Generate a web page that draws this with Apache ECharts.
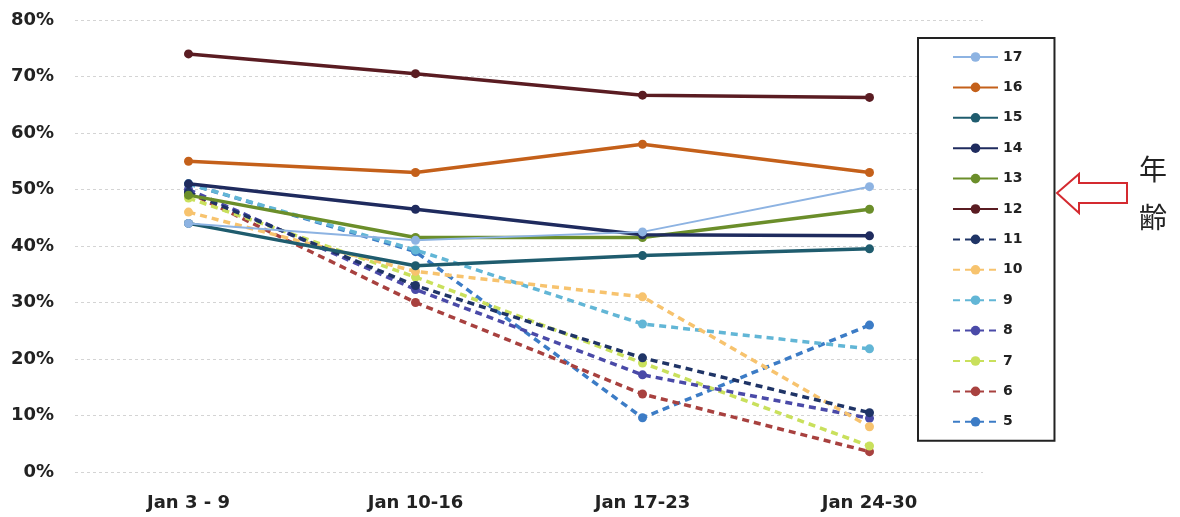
<!DOCTYPE html>
<html><head><meta charset="utf-8">
<script src="https://cdn.jsdelivr.net/npm/echarts@6/dist/echarts.min.js"></script>
<style>html,body{margin:0;padding:0;background:#fff}#c{width:1180px;height:517px}</style>
</head><body><div id="c"></div>
<script>
const categories = ['Jan 3 - 9', 'Jan 10-16', 'Jan 17-23', 'Jan 24-30'];
const yTicks = [0, 10, 20, 30, 40, 50, 60, 70, 80];
const seriesNames = ['17', '16', '15', '14', '13', '12', '11', '10', '9', '8', '7', '6', '5'];
const s17 = [44.0, 41.0, 42.5, 50.5];
const s16 = [55.0, 53.0, 58.0, 53.0];
const s15 = [44.0, 36.5, 38.3, 39.5];
const s14 = [51.0, 46.5, 42.0, 41.8];
const s13 = [49.0, 41.5, 41.5, 46.5];
const s12 = [74.0, 70.5, 66.7, 66.3];
const s11 = [49.5, 33.0, 20.2, 10.5];
const s10 = [46.0, 35.5, 31.0, 8.0];
const s9  = [51.0, 39.3, 26.2, 21.8];
const s8  = [50.0, 32.3, 17.2, 9.5];
const s7  = [48.5, 34.5, 19.3, 4.6];
const s6  = [49.5, 30.0, 13.8, 3.6];
const s5  = [51.0, 39.0, 9.6, 26.0];
const seriesData = [s17, s16, s15, s14, s13, s12, s11, s10, s9, s8, s7, s6, s5];
const colors = ['#8db3e2', '#c4601a', '#1f5c6e', '#1f2b5e', '#6b8e2a', '#5a1c22',
                '#1f3466', '#f7c36e', '#62b6d6', '#4a4aa8', '#c9e05c', '#a8413f', '#3c7cc6'];
const dashed = [false, false, false, false, false, false, true, true, true, true, true, true, true];

const chart = echarts.init(document.getElementById('c'));
const series = seriesNames.map((n, i) => ({
  name: n, type: 'line', data: seriesData[i],
  symbol: 'circle', symbolSize: 9,
  itemStyle: { color: colors[i] },
  lineStyle: { color: colors[i], width: i === 0 ? 2 : 3.5, type: dashed[i] ? [7, 5] : 'solid' },
  z: 20 - i
}));
chart.setOption({
  animation: false,
  backgroundColor: '#fff',
  grid: { left: 75, right: 197, top: 20, bottom: 45 },
  xAxis: {
    type: 'category', data: categories, boundaryGap: true,
    axisLine: { show: false }, axisTick: { show: false },
    axisLabel: { margin: 22, fontFamily: 'DejaVu Sans', fontWeight: 'bold', fontSize: 18, color: '#222' }
  },
  yAxis: {
    type: 'value', min: yTicks[0], max: yTicks[yTicks.length - 1], interval: 10,
    axisLabel: { formatter: '{value}%', fontFamily: 'DejaVu Sans', fontWeight: 'bold', fontSize: 18, color: '#222', margin: 21 },
    splitLine: { lineStyle: { color: '#d4d4d4', type: [3, 3], width: 1 } },
    axisLine: { show: false }, axisTick: { show: false }
  },
  legend: {
    orient: 'vertical', left: 918, top: 38,
    data: seriesNames,
    itemWidth: 45, itemHeight: 12, itemGap: 16.4,
    padding: [12, 32, 12, 34],
    borderColor: '#222', borderWidth: 2, backgroundColor: '#fff',
    textStyle: { fontFamily: 'DejaVu Sans', fontWeight: 'bold', fontSize: 14, color: '#222' }
  },
  graphic: [
    { type: 'polygon', shape: { points: [[1057,193],[1079,174],[1079,183],[1127,183],[1127,203],[1079,203],[1079,213]] },
      style: { fill: '#fff', stroke: '#d42a30', lineWidth: 2 } },
    { type: 'text', left: 1139, top: 155, style: { text: '年', font: '28px "Noto Sans CJK JP"', fill: '#222' } },
    { type: 'text', left: 1139, top: 203, style: { text: '齢', font: '28px "Noto Sans CJK JP"', fill: '#222' } }
  ],
  series: series
});
</script></body></html>
